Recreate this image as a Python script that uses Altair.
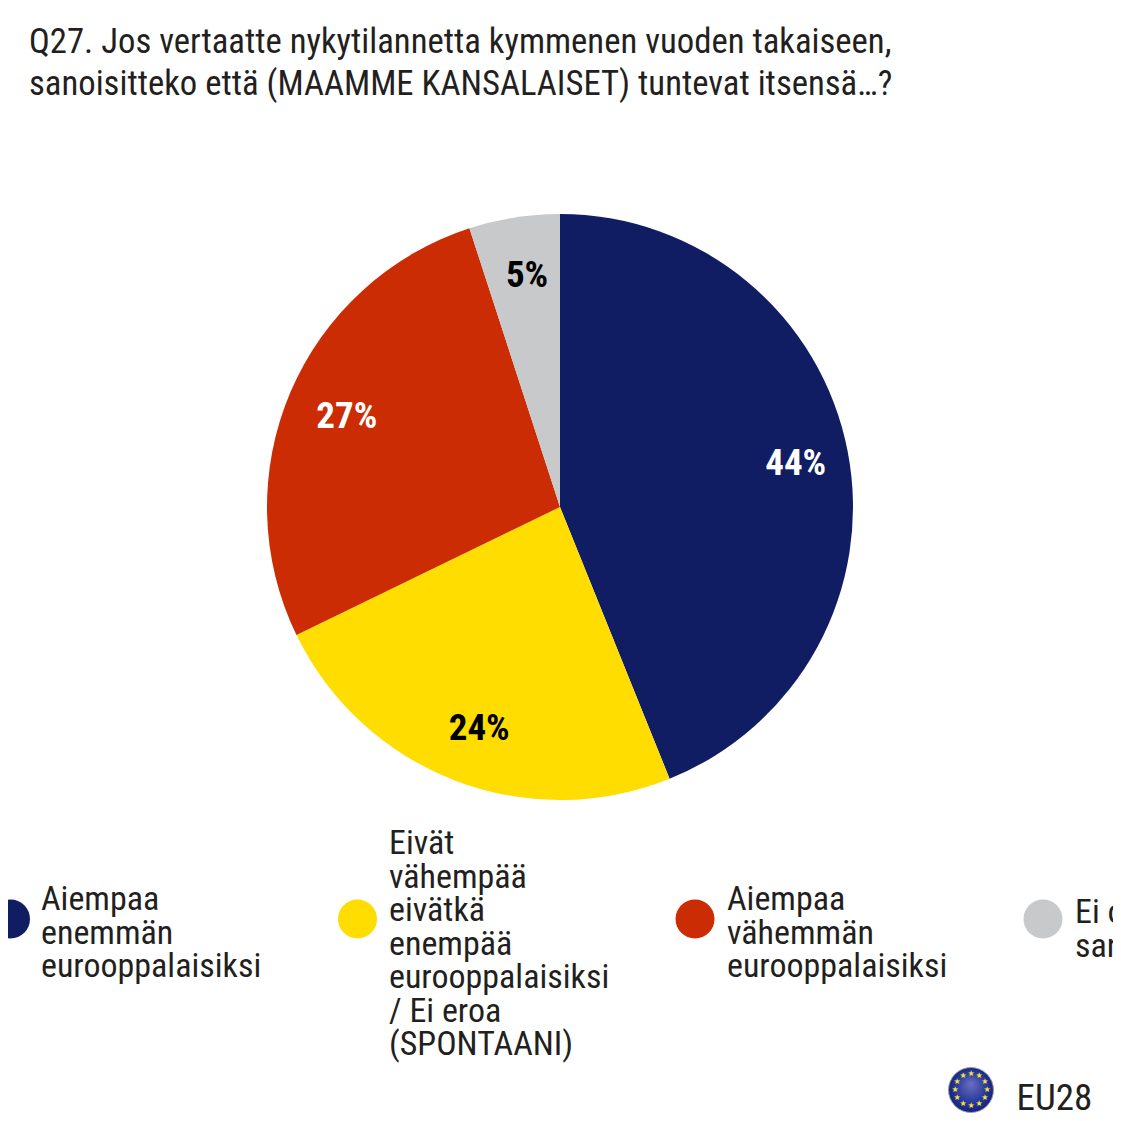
import altair as alt
import pandas as pd

TITLE = ["Q27. Jos vertaatte nykytilannetta kymmenen vuoden takaiseen,",
         "sanoisitteko että (MAAMME KANSALAISET) tuntevat itsensä…?"]
CATEGORIES = ["Aiempaa enemmän eurooppalaisiksi",
              "Eivät vähempää eivätkä enempää eurooppalaisiksi / Ei eroa (SPONTAANI)",
              "Aiempaa vähemmän eurooppalaisiksi",
              "Ei osaa sanoa"]
LEGEND_LABELS = ["Aiempaa|enemmän|eurooppalaisiksi",
                 "Eivät|vähempää|eivätkä|enempää|eurooppalaisiksi|/ Ei eroa|(SPONTAANI)",
                 "Aiempaa|vähemmän|eurooppalaisiksi",
                 "Ei osaa|sanoa"]
VALUES = [43.9, 23.9, 27.2, 5]
PERCENT_LABELS = ["44%", "24%", "27%", "5%"]
COLORS = ["#101d63", "#ffdd00", "#cc2c03", "#c8c9cb"]
LABEL_COLORS = ["#ffffff", "#000000", "#ffffff", "#000000"]
STAR_ANGLES = [0, 30, 60, 90, 120, 150, 180, 210, 240, 270, 300, 330]

# layout, in chart pixels (page pixels minus the 8px margin)
LEGEND_SYMBOL_X = [2.5, 349.5, 687, 1035]
LEGEND_TEXT_X = [33, 381, 719, 1067]
LEGEND_TEXT_Y = [902, 846, 902, 915]
CX, CY = 552, 499
FX, FY = 963, 1082
FONT = "Roboto Condensed"
INK = "#231f20"

df = pd.DataFrame({
    "cat": CATEGORIES, "value": VALUES, "idx": range(4),
    "legend": LEGEND_LABELS, "pct": PERCENT_LABELS,
    "lab": LABEL_COLORS,
})
color = alt.Color("cat:N", scale=alt.Scale(domain=CATEGORIES, range=COLORS), legend=None)
theta = alt.Theta("value:Q", stack=True, scale=alt.Scale(domain=[0, 100]))
order = alt.Order("idx:Q")

base = alt.Chart(df)
pie = base.mark_arc(outerRadius=293).encode(
    theta=theta, color=color, order=order, x=alt.value(CX), y=alt.value(CY))
pct = base.mark_text(radius=236, font=FONT, fontWeight="bold", fontSize=37,
                     align="center", baseline="middle", dx=4, dy=2).encode(
    theta=theta, order=order, text="pct:N",
    fill=alt.Fill("lab:N", scale=None), x=alt.value(CX), y=alt.value(CY))
layers = [pie, pct]

for c, sx, tx, ty in zip(CATEGORIES, LEGEND_SYMBOL_X, LEGEND_TEXT_X, LEGEND_TEXT_Y):
    one = base.transform_filter(alt.datum.cat == c)
    layers.append(one.mark_circle(size=1521, opacity=1).encode(
        color=color, x=alt.value(sx), y=alt.value(911)))
    layers.append(one.mark_text(font=FONT, fontSize=34, lineHeight=33.5, lineBreak="|",
                                align="left", baseline="alphabetic", color=INK).encode(
        text="legend:N", x=alt.value(tx), y=alt.value(ty)))

flag = alt.Chart(pd.DataFrame({"eu": ["EU28"]}))
layers.append(flag.mark_circle(
    size=2025, opacity=1, stroke="#9a9aa8", strokeWidth=1,
    fill=alt.Gradient(gradient="radial", x1=0.5, y1=0.35, x2=0.5, y2=0.5, r1=0.0, r2=0.55,
                      stops=[alt.GradientStop(color="#6a70c0", offset=0),
                             alt.GradientStop(color="#2a3a9c", offset=0.6),
                             alt.GradientStop(color="#101c78", offset=1)])
).encode(x=alt.value(FX), y=alt.value(FY)))
stars = alt.Chart(pd.DataFrame({"angle": STAR_ANGLES, "star": ["★"] * len(STAR_ANGLES)}))
layers.append(stars.mark_text(radius=16, font="DejaVu Sans", fontSize=8, color="#f6e32a",
                              align="center", baseline="middle").encode(
    theta=alt.Theta("angle:Q", stack=None, scale=alt.Scale(domain=[0, 360])),
    text="star:N", x=alt.value(FX), y=alt.value(FY)))
layers.append(flag.mark_text(font=FONT, fontSize=37, align="left", baseline="alphabetic",
                             color=INK).encode(text="eu:N", x=alt.value(1008.5), y=alt.value(1102)))

chart = alt.layer(*layers).resolve_scale(theta="independent", color="shared").properties(
    width=1105, height=1105, padding=0,
    autosize=alt.AutoSizeParams(type="none"),
    title=alt.TitleParams(text=TITLE, anchor="start", frame="group", font=FONT, fontSize=34.7,
                          fontWeight="normal", color=INK, lineHeight=42, dx=21, dy=126,
                          baseline="alphabetic"),
).configure_view(stroke=None)

chart.save("out.html", embed_options={"renderer": "svg", "actions": False})
